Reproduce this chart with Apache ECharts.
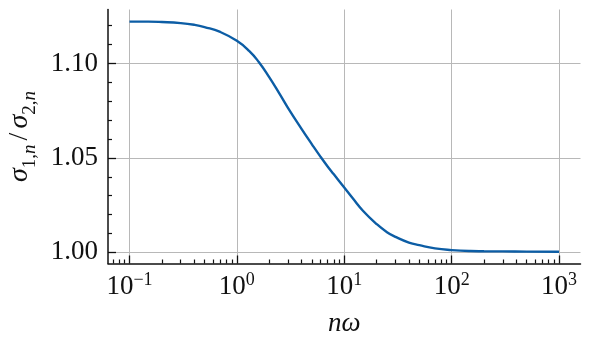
<!DOCTYPE html>
<html>
<head>
<meta charset="utf-8">
<script src="https://cdn.jsdelivr.net/npm/echarts@6/dist/echarts.min.js"></script>
<style>
html,body{margin:0;padding:0;background:#fff;}
#chart{width:590px;height:350px;}
</style>
</head>
<body>
<div id="chart"></div>
<script>
// Data
const nOmega = [0.1,0.15,0.2,0.3,0.4,0.5,0.7,1,1.3,1.6,2,2.5,3,4,5,6,7,8,10,12,15,20,25,30,40,50,70,100,150,200,300,500,1000];
const ratio  = [1.1222,1.1222,1.1220,1.1214,1.1205,1.1193,1.1167,1.1120,1.1067,1.1008,1.0928,1.0839,1.0764,1.0654,1.0572,1.0507,1.0455,1.0413,1.0343,1.0286,1.0219,1.0150,1.0107,1.0082,1.0052,1.0038,1.0021,1.0012,1.0007,1.0006,1.0005,1.0004,1.0003];

const xMajorTicks = [0.1, 1, 10, 100, 1000];
const xMinorTicks = [0.07,0.08,0.09,0.2,0.3,0.4,0.5,0.6,0.7,0.8,0.9,2,3,4,5,6,7,8,9,20,30,40,50,60,70,80,90,200,300,400,500,600,700,800,900];
const yMajorTicks = [1.00, 1.05, 1.10];
const yMinorTicks = [1.01,1.02,1.03,1.04,1.06,1.07,1.08,1.09,1.11,1.12];

const xMin = Math.pow(10, -1.2), xMax = Math.pow(10, 3.2);
const yMin = 0.9941, yMax = 1.1286;

const FONT = 'Liberation Serif';
const axisColor = '#111';
const gridColor = '#b8b8b8';

const chart = echarts.init(document.getElementById('chart'), null, {renderer: 'canvas'});
chart.setOption({
  backgroundColor: '#fff',
  animation: false,
  grid: {left: 108, right: 9.5, top: 9.5, bottom: 86.5, containLabel: false, outerBoundsMode: 'none'},
  xAxis: [{
    type: 'log', min: xMin, max: xMax, logBase: 10,
    name: 'nω', nameLocation: 'middle', nameGap: 47,
    nameTextStyle: {fontFamily: FONT, fontSize: 27, fontStyle: 'italic', color: '#111'},
    axisLine: {show: true, lineStyle: {color: axisColor, width: 1.5}},
    axisTick: {show: true, inside: true, length: 8, lineStyle: {color: axisColor, width: 1.3}, customValues: xMajorTicks},
    axisLabel: {
      customValues: xMajorTicks, margin: 9, color: '#111', fontFamily: FONT,
      formatter: function (v) {
        const e = Math.round(Math.log10(v));
        return '{b|10}{s|' + (e < 0 ? '\u2212' + (-e) : e) + '}';
      },
      rich: {
        b: {fontFamily: FONT, fontSize: 27, lineHeight: 28, verticalAlign: 'bottom', color: '#111'},
        s: {fontFamily: FONT, fontSize: 18, lineHeight: 18, verticalAlign: 'bottom', padding: [0, 0, 11, 0], color: '#111'}
      }
    },
    splitLine: {show: true, lineStyle: {color: gridColor, width: 1}, showMinLine: true, showMaxLine: true}
  }, {
    type: 'log', min: xMin, max: xMax, logBase: 10, position: 'bottom', gridIndex: 0,
    axisLine: {show: false},
    axisTick: {show: true, inside: true, length: 4, lineStyle: {color: axisColor, width: 1.2}, customValues: xMinorTicks},
    axisLabel: {show: false},
    splitLine: {show: false}
  }],
  yAxis: [{
    type: 'value', min: yMin, max: yMax,
    name: '{i|σ}{sr|1,}{si|n}{r|/}{i|σ}{sr|2,}{si|n}', nameLocation: 'middle', nameGap: 62,
    nameTextStyle: {
      fontFamily: FONT, fontSize: 27, color: '#111',
      rich: {
        i: {fontFamily: FONT, fontSize: 28, fontStyle: 'italic', lineHeight: 30, verticalAlign: 'bottom', padding: [0, 0, 6, 0], color: '#111'},
        r: {fontFamily: FONT, fontSize: 28, lineHeight: 30, verticalAlign: 'bottom', padding: [0, 4, 6, 4], color: '#111'},
        sr: {fontFamily: FONT, fontSize: 19, lineHeight: 19, verticalAlign: 'bottom', color: '#111'},
        si: {fontFamily: FONT, fontSize: 19, fontStyle: 'italic', lineHeight: 19, verticalAlign: 'bottom', color: '#111'}
      }
    },
    axisLine: {show: true, onZero: false, lineStyle: {color: axisColor, width: 1.5}},
    axisTick: {show: true, inside: true, length: 8, lineStyle: {color: axisColor, width: 1.3}, customValues: yMajorTicks},
    axisLabel: {
      customValues: yMajorTicks, margin: 10, color: '#111', fontFamily: FONT, fontSize: 27,
      formatter: function (v) { return v.toFixed(2); }
    },
    splitLine: {show: true, lineStyle: {color: gridColor, width: 1}, showMinLine: true, showMaxLine: true}
  }, {
    type: 'value', min: yMin, max: yMax, position: 'left', gridIndex: 0, offset: 0,
    axisLine: {show: false, onZero: false},
    axisTick: {show: true, inside: true, length: 4, lineStyle: {color: axisColor, width: 1.2}, customValues: yMinorTicks},
    axisLabel: {show: false},
    splitLine: {show: false}
  }],
  series: [{
    type: 'line',
    xAxisIndex: 0, yAxisIndex: 0,
    data: nOmega.map((x, i) => [x, ratio[i]]),
    showSymbol: false, smooth: 0.5,
    lineStyle: {color: '#0C5DA5', width: 2.4},
    z: 3
  }]
});
</script>
</body>
</html>
